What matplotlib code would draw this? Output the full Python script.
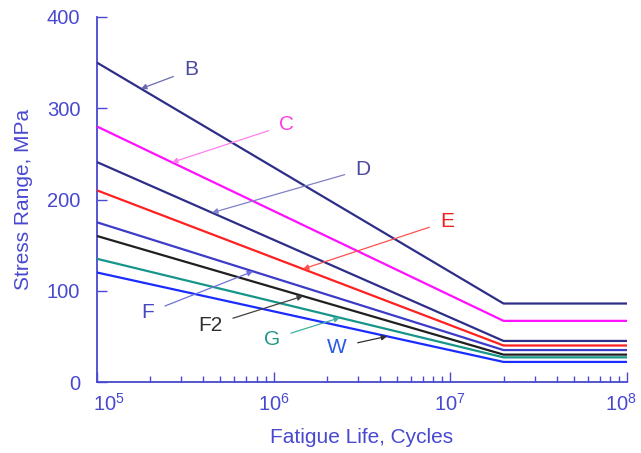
import numpy as np
import matplotlib
matplotlib.use("Agg")
import matplotlib.pyplot as plt
import matplotlib.transforms as mtransforms

plt.rcParams['font.family'] = ['Liberation Sans', 'DejaVu Sans']
plt.rcParams['mathtext.fontset'] = 'custom'
plt.rcParams['mathtext.rm'] = 'Liberation Sans'
plt.rcParams['mathtext.it'] = 'Liberation Sans'

# Data
classes = ['B', 'C', 'D', 'E', 'F', 'F2', 'G', 'W']
cycles = [1e5, 2e7, 1e8]
stress_start = [350, 280, 241, 210, 175, 160, 135, 120]   # at 1e5 cycles
stress_knee = [86, 67, 45, 40, 35, 30, 27, 22]            # at 2e7 and beyond
xtick_vals = [1e5, 1e6, 1e7, 1e8]
xtick_labels = ['$10^{5}$', '$10^{6}$', '$10^{7}$', '$10^{8}$']
ytick_vals = [0, 100, 200, 300, 400]

line_colors = ['#2e2e88', '#ff10ff', '#2e2e88', '#ff2020', '#3c3cc8', '#202020', '#16968a', '#1a2cff']
text_colors = ['#4a4a9e', '#ff40e0', '#4a4a9e', '#ee2020', '#4646c0', '#303030', '#22998a', '#2a5ae6']
arrow_colors = ['#6a6ab0', '#ff80ee', '#8080c8', '#ff5050', '#7070dd', '#404040', '#40b0a0', '#303030']

# annotation: label position (log10 x, y) and arrow head log10 x on the line
label_logx = [5.532, 6.075, 6.506, 6.981, 5.289, 5.640, 5.991, 6.358]
label_y = [342, 282, 233, 176, 76, 62, 47, 38]
head_logx = [5.249, 5.4245, 5.651, 6.166, 5.883, 6.166, 6.375, 6.642]

fig = plt.figure(figsize=(6.41, 4.53), dpi=100)
ax = fig.add_axes([97/641, 71/453, 530/641, 365/453])
axc = '#4848d0'

for i, name in enumerate(classes):
    vals = [stress_start[i], stress_knee[i], stress_knee[i]]
    ax.plot(cycles, vals, color=line_colors[i], lw=1.6, solid_capstyle='butt', zorder=3)

for i, name in enumerate(classes):
    lx = np.log10(cycles)
    vals = [stress_start[i], stress_knee[i], stress_knee[i]]
    hy = np.interp(head_logx[i], lx, vals)
    ax.annotate(name, xy=(10**head_logx[i], hy), xytext=(10**label_logx[i], label_y[i]),
                color=text_colors[i], fontsize=15, ha='center', va='center',
                arrowprops=dict(arrowstyle='-|>', color=arrow_colors[i], lw=0.9,
                                mutation_scale=8, shrinkA=6, shrinkB=0),
                zorder=4)

ax.set_xscale('log')
ax.set_xlim(1e5, 1e8)
ax.set_ylim(0, 400)
ax.set_yticks(ytick_vals)
ax.set_xticks(xtick_vals)
ax.set_xticklabels(xtick_labels)

for s in ['top', 'right']:
    ax.spines[s].set_visible(False)
for s in ['left', 'bottom']:
    ax.spines[s].set_color(axc)
    ax.spines[s].set_linewidth(1.3)

ax.tick_params(axis='both', which='both', direction='in', colors=axc, labelsize=14.5)
ax.tick_params(axis='y', which='major', length=7, width=1, pad=12)
ax.tick_params(axis='x', which='major', length=7, width=1, pad=8)
ax.tick_params(axis='x', which='minor', length=4, width=1)

# shift the end labels inward like the reference
labels = ax.get_xticklabels()
labels[0].set_transform(labels[0].get_transform() +
                        mtransforms.ScaledTranslation(12/100, 0, fig.dpi_scale_trans))
labels[-1].set_transform(labels[-1].get_transform() +
                         mtransforms.ScaledTranslation(-6/100, 0, fig.dpi_scale_trans))

ax.set_xlabel('Fatigue Life, Cycles', color=axc, fontsize=15, labelpad=9)
ax.set_ylabel('Stress Range, MPa', color=axc, fontsize=15, labelpad=10)

fig.savefig('out.png', dpi=100)
